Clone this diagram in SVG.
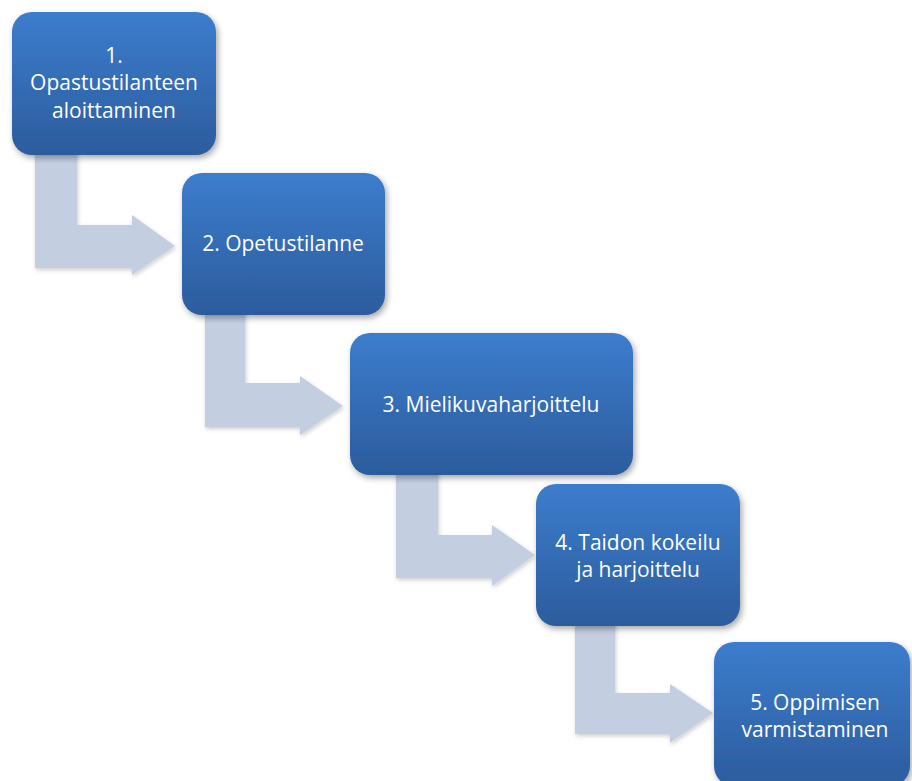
<svg xmlns="http://www.w3.org/2000/svg" width="912" height="781" viewBox="0 0 912 781">
<defs>
<linearGradient id="g" x1="0" y1="0" x2="0" y2="1">
<stop offset="0" stop-color="#3c7dcd"/>
<stop offset="1" stop-color="#2c5c9d"/>
</linearGradient>
<filter id="sh" x="-10%" y="-10%" width="125%" height="130%">
<feDropShadow dx="2" dy="3" stdDeviation="3" flood-color="#000" flood-opacity="0.35"/>
</filter>
<filter id="ash" x="-10%" y="-10%" width="125%" height="130%">
<feDropShadow dx="1" dy="2" stdDeviation="2" flood-color="#000" flood-opacity="0.2"/>
</filter>
</defs>
<style>
.box{fill:url(#g);filter:url(#sh)}
.arr{fill:#c4cee1;filter:url(#ash)}
.t{fill:#fff;font-family:"Open Sans","Noto Sans",sans-serif;font-size:21px;text-anchor:middle}
</style>
<rect width="912" height="781" fill="#fff"/>
<g id="connectors">
<path class="arr" d="M35,150 L77,150 L77,225 L132,225 L132,215 L175,246 L132,275 L132,268 L35,268 Z"/>
<path class="arr" d="M205,305 L245,305 L245,383 L300,383 L300,376 L343,406 L300,435 L300,427 L205,427 Z"/>
<path class="arr" d="M396,465 L438,465 L438,535 L492,535 L492,525 L535,555 L492,586 L492,578 L396,578 Z"/>
<path class="arr" d="M575,615 L615,615 L615,693 L670,693 L670,684 L713,713 L670,743 L670,734 L575,734 Z"/>
</g>
<g id="node1">
<rect class="box" x="12" y="12" width="204" height="143" rx="20"/>
<text class="t" x="114" y="63">1.</text>
<text class="t" x="114" y="90">Opastustilanteen</text>
<text class="t" x="114" y="118">aloittaminen</text>
</g>
<g id="node2">
<rect class="box" x="182" y="173" width="203" height="142" rx="20"/>
<text class="t" x="283" y="251">2. Opetustilanne</text>
</g>
<g id="node3">
<rect class="box" x="350" y="333" width="283" height="142" rx="20"/>
<text class="t" x="491" y="412">3. Mielikuvaharjoittelu</text>
</g>
<g id="node4">
<rect class="box" x="536" y="484" width="204" height="142" rx="20"/>
<text class="t" x="638" y="550">4. Taidon kokeilu</text>
<text class="t" x="638" y="577">ja harjoittelu</text>
</g>
<g id="node5">
<rect class="box" x="714" y="642" width="196" height="144" rx="20"/>
<text class="t" x="815" y="710">5. Oppimisen</text>
<text class="t" x="815" y="737">varmistaminen</text>
</g>
</svg>
